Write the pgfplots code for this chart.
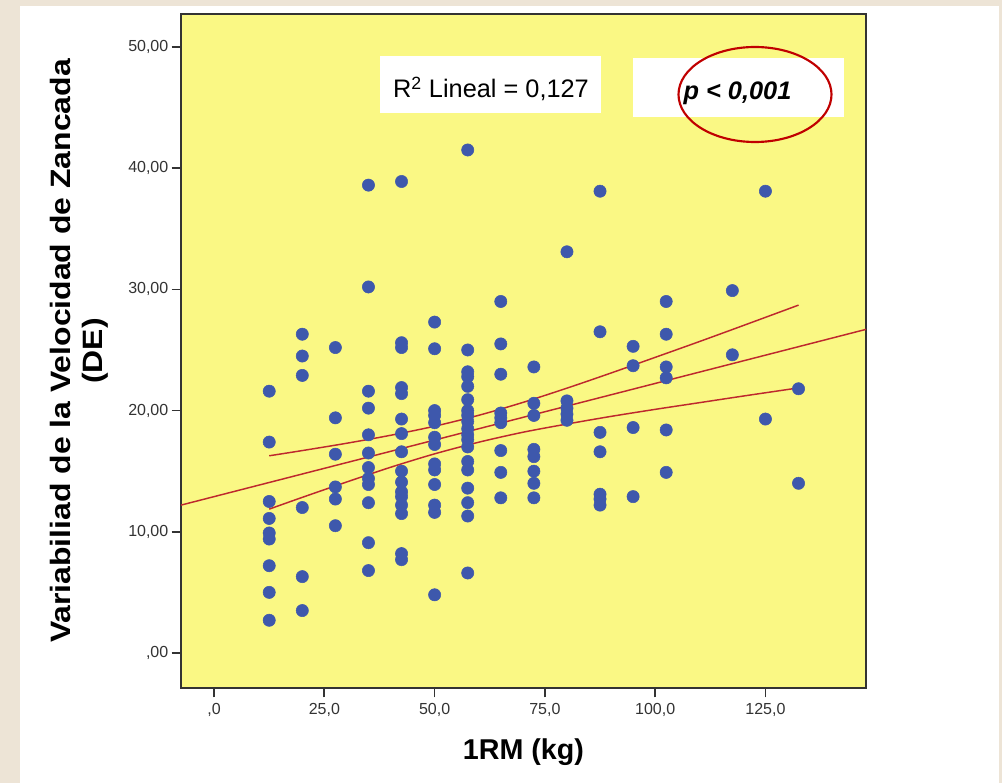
\documentclass[border=0pt]{standalone}
\usepackage{fontspec}
\setmainfont{Liberation Sans}
\newfontfamily\ylabfont[FakeStretch=1.14]{Liberation Sans}
\usepackage{pgfplots}
\pgfplotsset{compat=1.18}
\definecolor{bgbeige}{RGB}{237,228,214}
\definecolor{plotyellow}{RGB}{250,248,132}
\definecolor{dotblue}{RGB}{62,88,172}
\definecolor{fitred}{RGB}{190,40,45}
\definecolor{ellred}{RGB}{192,0,0}
\definecolor{axgray}{RGB}{51,51,51}

\pgfplotstableread{
x y
12.5 21.6
12.5 17.4
12.5 12.5
12.5 11.1
12.5 9.9
12.5 9.4
12.5 7.2
12.5 5.0
12.5 2.7
20 26.3
20 24.5
20 22.9
20 12.0
20 6.3
20 3.5
27.5 25.2
27.5 19.4
27.5 16.4
27.5 13.7
27.5 12.7
27.5 10.5
35 38.6
35 30.2
35 21.6
35 20.2
35 18.0
35 16.5
35 15.3
35 14.4
35 13.9
35 12.4
35 9.1
35 6.8
42.5 38.9
42.5 25.6
42.5 25.2
42.5 21.9
42.5 21.4
42.5 19.3
42.5 18.1
42.5 16.6
42.5 15.0
42.5 14.1
42.5 13.3
42.5 12.9
42.5 12.2
42.5 11.5
42.5 8.2
42.5 7.7
50 27.3
50 25.1
50 20.0
50 19.6
50 19.0
50 17.8
50 17.2
50 15.6
50 15.1
50 13.9
50 12.2
50 11.6
50 4.8
57.5 41.5
57.5 25.0
57.5 23.2
57.5 22.8
57.5 22.0
57.5 20.9
57.5 20.0
57.5 19.6
57.5 19.1
57.5 18.5
57.5 18.0
57.5 17.6
57.5 17.0
57.5 15.8
57.5 15.1
57.5 13.6
57.5 12.4
57.5 11.3
57.5 6.6
65 29.0
65 25.5
65 23.0
65 19.8
65 19.4
65 19.0
65 16.7
65 14.9
65 12.8
72.5 23.6
72.5 20.6
72.5 19.6
72.5 16.8
72.5 16.2
72.5 15.0
72.5 14.0
72.5 12.8
80 33.1
80 20.8
80 20.2
80 19.7
80 19.2
87.5 38.1
87.5 26.5
87.5 18.2
87.5 16.6
87.5 13.1
87.5 12.7
87.5 12.2
95 25.3
95 23.7
95 18.6
95 12.9
102.5 29.0
102.5 26.3
102.5 23.6
102.5 22.7
102.5 18.4
102.5 14.9
117.5 29.9
117.5 24.6
125 38.1
125 19.3
132.5 21.8
132.5 14.0
}\pts

\pgfplotstableread{
x lo hi
12.5 11.87 16.27
20 12.84 16.70
30 14.10 17.30
40 15.32 17.96
50 16.43 18.71
60 17.39 19.61
70 18.21 20.67
80 18.89 21.85
90 19.52 23.10
100 20.10 24.39
110 20.65 25.69
120 21.20 27.02
132.5 21.87 28.70
}\band

\begin{document}
\begin{tikzpicture}
\begin{scope}[shift={(-135.75pt,516pt)},x=0.75pt,y=-0.75pt]
  \fill[bgbeige] (0,0) rectangle (1002,783);
  \fill[white] (20,6) rectangle (999,783);
\end{scope}

\begin{axis}[
  at={(0,0)}, anchor=south west,
  width=513.75pt, height=505.5pt, scale only axis,
  xmin=-7.5, xmax=147.8, ymin=-2.89, ymax=52.72,
  axis background/.style={fill=plotyellow},
  axis line style={axgray, line width=1.3pt},
  tick align=outside, tick pos=left,
  major tick length=7pt,
  every tick/.style={axgray, line width=1.3pt},
  xtick={0,25,50,75,100,125},
  xticklabels={{,0},{25,0},{50,0},{75,0},{100,0},{125,0}},
  ytick={0,10,20,30,40,50},
  yticklabels={{,00},{10,00},{20,00},{30,00},{40,00},{50,00}},
  tick label style={font=\fontsize{12}{14}\selectfont, text=axgray},
  xticklabel style={yshift=-1pt},
  yticklabel style={xshift=1pt},
  xlabel={1RM (kg)},
  xlabel style={at={(axis description cs:0.5,-0.1068)}, anchor=base, font=\bfseries\fontsize{21.5}{24}\selectfont},
  ylabel={Variabiliad de la Velocidad de Zancada\\(DE)},
  ylabel style={at={(axis description cs:-0.149,0.5)}, anchor=center, align=center, font=\ylabfont\bfseries\fontsize{21}{24}\selectfont},
]
\addplot[only marks, mark=*, mark size=4.6pt, mark options={fill=dotblue, draw=dotblue}] table[x=x,y=y] {\pts};
\addplot[fitred, line width=1.1pt] coordinates {(-7.5,12.20) (147.8,26.70)};
\addplot[fitred, line width=1.1pt, smooth] table[x=x,y=hi] {\band};
\addplot[fitred, line width=1.1pt, smooth] table[x=x,y=lo] {\band};
\end{axis}

\begin{scope}[shift={(-135.75pt,516pt)},x=0.75pt,y=-0.75pt]
  \fill[white] (380,56) rectangle (601,113);
  \node[anchor=base, inner sep=0pt, font=\fontsize{19}{22}\selectfont] at (491,98) {R\textsuperscript{2} Lineal = 0,127};
  \fill[white] (633,58) rectangle (844,117);
  \node[anchor=base, inner sep=0pt, font=\bfseries\itshape\fontsize{19}{22}\selectfont] at (737.5,100) {p < 0,001};
  \draw[ellred, line width=1.6pt] (755,94.5) ellipse [x radius=76.5, y radius=47.5];
  \pgfresetboundingbox
  \path[use as bounding box] (0,0) rectangle (1002,783);
\end{scope}
\end{tikzpicture}
\end{document}
